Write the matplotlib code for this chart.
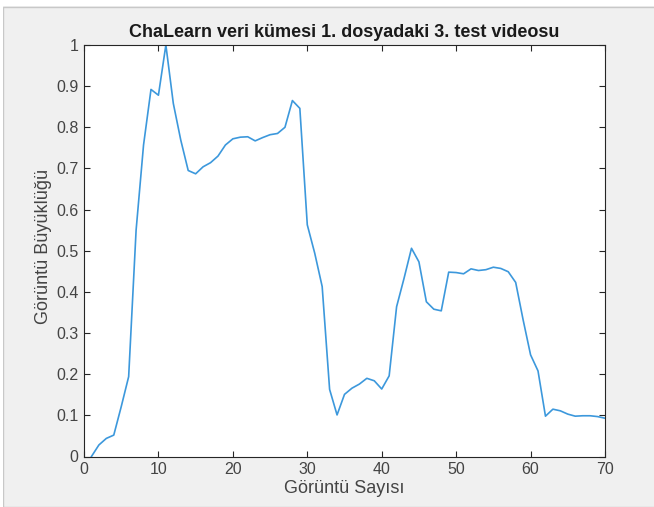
import matplotlib
matplotlib.use("Agg")
import matplotlib.pyplot as plt
from matplotlib.ticker import FuncFormatter

# frame numbers and magnitudes
frames = list(range(1, 71))
magnitude = [0.0, 0.028, 0.044, 0.052, 0.121, 0.194, 0.55, 0.757, 0.892, 0.878,
             1.0, 0.858, 0.769, 0.695, 0.687, 0.704, 0.714, 0.730, 0.757, 0.772,
             0.776, 0.777, 0.767, 0.775, 0.782, 0.785, 0.800, 0.865, 0.846, 0.563,
             0.494, 0.413, 0.163, 0.101, 0.151, 0.166, 0.176, 0.190, 0.184, 0.164,
             0.196, 0.364, 0.433, 0.506, 0.473, 0.376, 0.358, 0.354, 0.448, 0.447,
             0.444, 0.456, 0.452, 0.454, 0.460, 0.457, 0.449, 0.423, 0.332, 0.247,
             0.208, 0.098, 0.115, 0.111, 0.103, 0.098, 0.099, 0.099, 0.097, 0.093]

title = "ChaLearn veri kümesi 1. dosyadaki 3. test videosu"
xlabel = "Görüntü Sayısı"
ylabel = "Görüntü Büyüklüğü"

plt.rcParams['font.family'] = ['Liberation Sans', 'DejaVu Sans']

fig = plt.figure(figsize=(6.54, 5.07), dpi=100)
fig.patch.set_facecolor('#f0f0f0')
# screenshot frame
fig.add_artist(plt.Rectangle((3 / 654, 0), 1, 1 - 7 / 507, transform=fig.transFigure,
                             facecolor='none', edgecolor='#c8c8c8', linewidth=1))
fig.add_artist(plt.Rectangle((0, 1 - 6 / 507), 1, 6 / 507, transform=fig.transFigure,
                             facecolor='white', edgecolor='none'))
fig.add_artist(plt.Rectangle((0, 0), 3 / 654, 1, transform=fig.transFigure,
                             facecolor='white', edgecolor='none'))

ax = fig.add_axes([84 / 654, 50.5 / 507, 521 / 654, 411.5 / 507])
ax.set_facecolor('white')
ax.plot(frames, magnitude, color='#3c98dc', linewidth=1.2)

ax.set_xlim(0, 70)
ax.set_ylim(0, 1)
ax.set_xticks(range(0, 71, 10))
ax.set_yticks([i / 10 for i in range(11)])
ax.yaxis.set_major_formatter(FuncFormatter(lambda v, p: f"{v:g}"))
ax.tick_params(direction='in', top=True, right=True, length=4, width=0.8,
               color='#262626', labelcolor='#444444', labelsize=11.5, pad=4)
for s in ax.spines.values():
    s.set_color('#262626')
    s.set_linewidth(0.8)

ax.set_title(title, fontsize=13, fontweight='bold', color='#1a1a1a', pad=6)
ax.set_xlabel(xlabel, fontsize=13, color='#444444', labelpad=2)
ax.set_ylabel(ylabel, fontsize=13, color='#444444')
ax.yaxis.set_label_coords(-0.062, 0.51)

fig.savefig("out.png", dpi=100, facecolor=fig.get_facecolor())
